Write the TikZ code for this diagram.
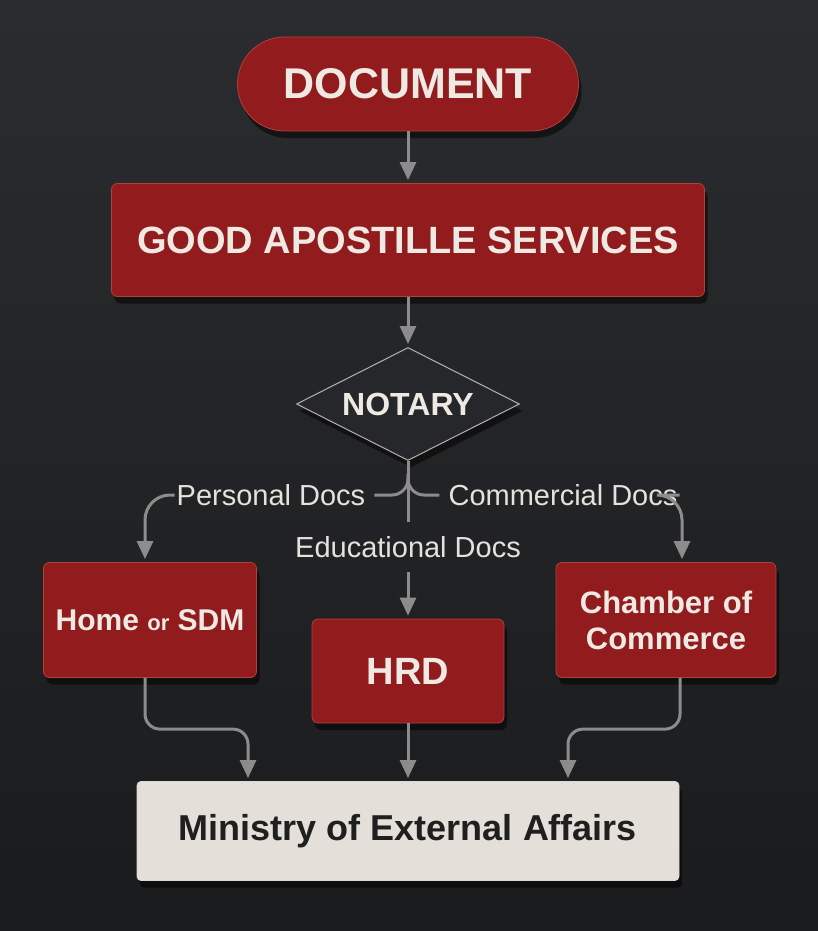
\documentclass[tikz,border=0pt]{standalone}
\usepackage{fontspec}
\setmainfont{Liberation Sans}
\usetikzlibrary{shapes.geometric,arrows.meta,shadows}
\definecolor{bgtop}{HTML}{2B2C2F}
\definecolor{bgbot}{HTML}{1A1B1D}
\definecolor{boxred}{HTML}{921B1D}
\definecolor{edgered}{HTML}{B2403B}
\definecolor{txtlight}{HTML}{EEEAE3}
\definecolor{linegray}{HTML}{8C8C8C}
\definecolor{paper}{HTML}{E4E0D9}
\definecolor{slate}{HTML}{26272A}

\begin{document}
\begin{tikzpicture}[x=1pt, y=-1pt,
  boxshadow/.style = {drop shadow={shadow xshift=3pt, shadow yshift=-7pt,
    opacity=0.5, fill=black}},
  redbox/.style = {shape=rectangle, rounded corners=6pt,
    draw=edgered, line width=0.8pt, fill=boxred, text=txtlight,
    inner sep=0pt, align=center, boxshadow},
  doctag/.style = {text=txtlight!92!gray, inner xsep=2pt, inner ysep=0pt,
    font=\fontsize{29}{29}\selectfont},
  conn/.style = {draw=linegray, line width=3pt},
  arr/.style = {conn, -{Triangle[width=16pt,length=18pt]}, shorten >=3pt}]

  \useasboundingbox (0,0) rectangle (818,931);
  \shade[top color=bgtop, bottom color=bgbot] (0,0) rectangle (818,931);

  \node[redbox, rounded corners=47pt, minimum width=341pt, minimum height=94pt,
    font=\bfseries\fontsize{43}{43}\selectfont] (doc) at (408,84) {DOCUMENT};
  \node[redbox, minimum width=593pt, minimum height=113pt,
    font=\bfseries\fontsize{38}{38}\selectfont] (gas) at (408,240) {GOOD APOSTILLE SERVICES};
  \node[shape=diamond, aspect=2, draw=gray!60, line width=1pt, fill=slate, text=txtlight,
    minimum width=223pt, minimum height=113pt, inner sep=0pt, boxshadow,
    font=\bfseries\fontsize{32}{32}\selectfont] (not) at (408,404) {NOTARY};

  \node[doctag] (pers) at (271,495) {Personal Docs};
  \node[doctag] (comm) at (563,495) {Commercial Docs};
  \node[doctag, inner ysep=14pt] (edu) at (408,547) {Educational Docs};
  \coordinate (fork) at (408,474);

  \node[redbox, minimum width=213pt, minimum height=115pt,
    font=\bfseries\fontsize{30}{30}\selectfont] (home) at (150,620)
    {Home {\fontsize{22}{22}\selectfont or} SDM};
  \node[redbox, minimum width=192pt, minimum height=104pt,
    font=\bfseries\fontsize{38}{38}\selectfont] (hrd) at (408,671) {HRD};
  \node[redbox, minimum width=220pt, minimum height=115pt,
    font=\bfseries\fontsize{31}{36}\selectfont] (coc) at (666,620) {Chamber of\\ Commerce};
  \node[shape=rectangle, rounded corners=4pt, draw=white!70!gray, line width=0.8pt,
    fill=paper, text=black!88, minimum width=542pt, minimum height=99pt, boxshadow,
    font=\bfseries\fontsize{36}{36}\selectfont] (mea) at (408,831) {Ministry of External Affairs};

  \draw[arr] (doc) -- (gas);
  \draw[arr] (gas) -- (not);
  \draw[conn] (not.south) -- (edu.north);
  \draw[conn, rounded corners=16pt, shorten >=7pt] (fork) |- (pers.east);
  \draw[conn, rounded corners=16pt, shorten >=7pt] (fork) |- (comm.west);
  \draw[arr, rounded corners=25pt] (pers.west) -| ([xshift=-5pt]home.north);
  \draw[arr, rounded corners=25pt] (comm.east) -| ([xshift=16pt]coc.north);
  \draw[arr] (edu.south) -- (hrd.north);

  \draw[arr, rounded corners=15pt] ([xshift=-5pt]home.south)
    |- ([xshift=-160pt, yshift=52pt]mea.north) -- ([xshift=-160pt]mea.north);
  \draw[arr] (hrd) -- (mea);
  \draw[arr, rounded corners=15pt] ([xshift=14pt]coc.south)
    |- ([xshift=160pt, yshift=52pt]mea.north) -- ([xshift=160pt]mea.north);

\end{tikzpicture}
\end{document}
